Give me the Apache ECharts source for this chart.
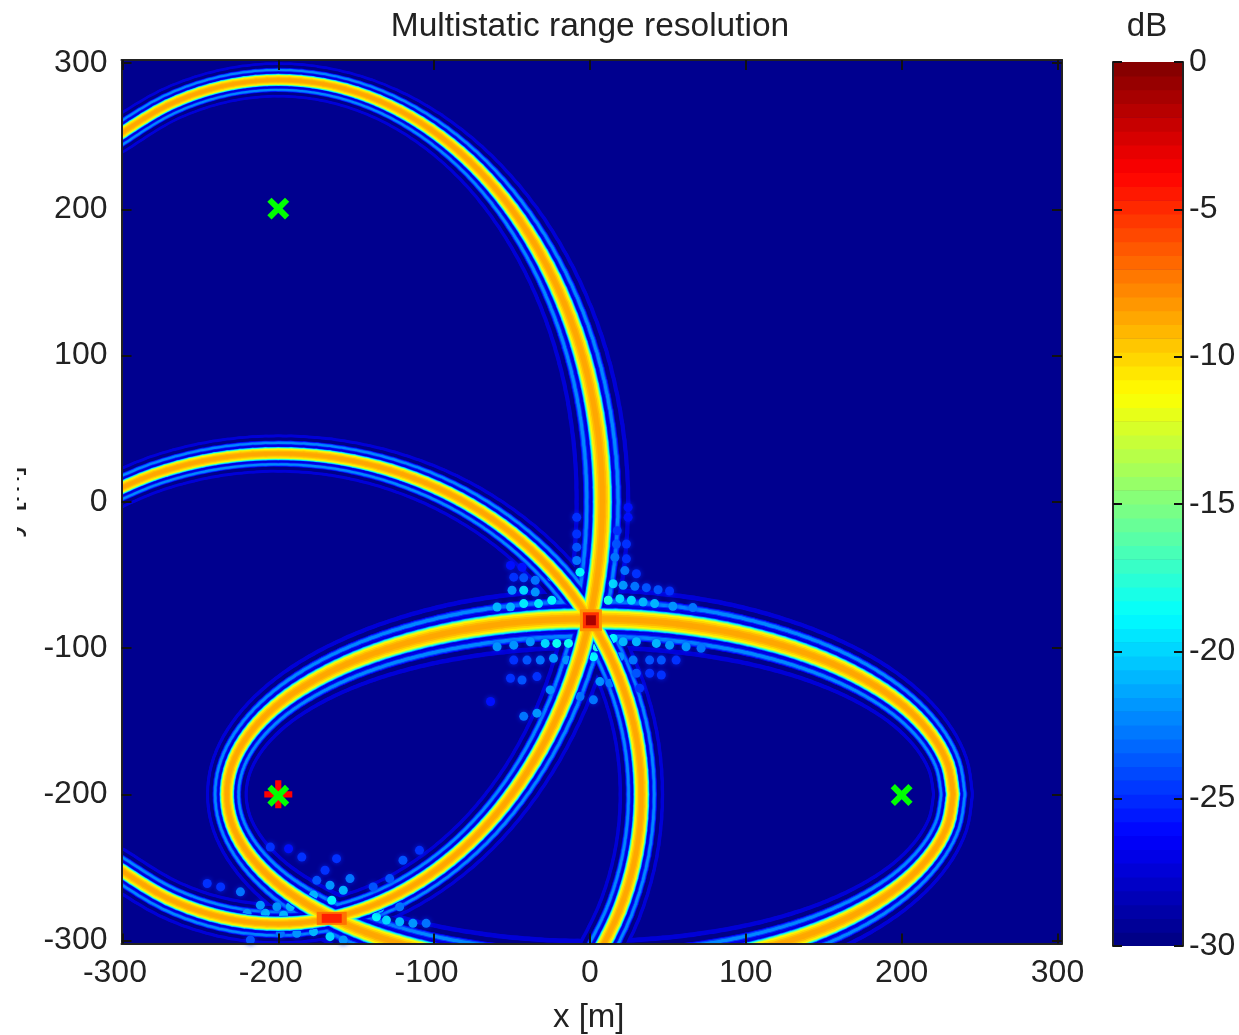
<!DOCTYPE html>
<html>
<head>
<meta charset="utf-8">
<style>
html,body{margin:0;padding:0;background:#fff;overflow:hidden}
#c{width:1239px;height:1035px;filter:blur(0.7px)}
</style>
<script src="https://cdn.jsdelivr.net/npm/echarts@6/dist/echarts.min.js"></script>
</head>
<body>
<div id="c"></div>
<script>
// ---- Data (metres / dB) ----
const xTicks = [-300,-200,-100,0,100,200,300];
const yTicks = [-300,-200,-100,0,100,200,300];
const dbTicks = [-30,-25,-20,-15,-10,-5,0];

// Ridge of the tall ellipse (x, y)
const tallRidge = [[-304,249.8],[-271.1,271.1],[-236.1,284.1],[-200,288.5],[-163.9,284.1],[-128.9,271.1],[-96,249.8],[-66.3,221],[-40.7,185.4],[-19.9,144.3],[-4.5,98.7],[4.8,50.1],[8,0],[4.8,-50.1],[-4.5,-98.7],[-19.9,-144.3],[-40.7,-185.4],[-66.3,-221],[-96,-249.8],[-128.9,-271.1],[-163.9,-284.1],[-200,-288.5],[-236.1,-284.1],[-271.1,-271.1],[-304,-249.8]];
const tallWidth = [.88,.86,.85,.85,.86,.9,.96,1.03,1.12,1.2,1.27,1.32,1.35,1.32,1.25,1.18,1.12,1.08,1.05,1.02,1,1,1,1,1];

// Ridge of the wide ellipse
const wideRidge = [[233,-200],[229.5,-179.2],[218.9,-159],[201.8,-140],[178.5,-122.9],[149.8,-108.1],[116.5,-96.1],[79.7,-87.2],[40.5,-81.8],[0,-80],[-40.5,-81.8],[-79.7,-87.2],[-116.5,-96.1],[-149.8,-108.1],[-178.5,-122.9],[-201.8,-140],[-218.9,-159],[-229.5,-179.2],[-233,-200],[-229.5,-220.8],[-218.9,-241],[-201.8,-260],[-178.5,-277.1],[-149.8,-291.9],[-116.5,-303.9],[-79.7,-312.8],[-40.5,-318.2],[0,-320],[40.5,-318.2],[79.7,-312.8],[116.5,-303.9],[149.8,-291.9],[178.5,-277.1],[201.8,-260],[218.9,-241],[229.5,-220.8],[233,-200]];
const wideWidth = [1,1.02,1.06,1.12,1.2,1.28,1.36,1.44,1.48,1.5,1.48,1.44,1.36,1.28,1.2,1.12,1.06,1.02,1,1.02,1.06,1.12,1.2,1.28,1.36,1.44,1.48,1.5,1.48,1.44,1.36,1.28,1.2,1.12,1.06,1.02,1];

// Ridge of the circular arc
const arcRidge = [[-316.5,1.8],[-279.7,18.9],[-240.5,29.5],[-200,33],[-159.5,29.5],[-120.3,18.9],[-83.5,1.8],[-50.2,-21.5],[-21.5,-50.2],[1.8,-83.5],[18.9,-120.3],[29.5,-159.5],[33,-200],[29.5,-240.5],[18.9,-279.7],[1.8,-316.5]];
const arcWidth = [.92,.92,.92,.92,.94,.98,1.02,1.05,1.08,1.1,1.1,1.1,1.1,1.1,1.1,1.1];

// Ripple spots near the crossings (x, y, dB)
const ripples = [[-50,-60.5,-22],[-42.5,-60.5,-20],[-35.1,-61.7,-22],[-24.5,-67.3,-19],[-18.1,-58.3,-21],[-48.9,-51.5,-25],[-42.5,-52,-24],[-35.1,-53.7,-23],[-51,-43.5,-26],[-43.6,-44.7,-26],[-6.4,-48.1,-19],[-8.5,-40.1,-23],[-8.5,-31,-24],[-8.5,-22,-25],[-8.5,-10.6,-25],[-24.5,-51.5,-22],[-59.6,-71.9,-21],[-42.5,-69.6,-19.5],[-33,-69.6,-19.5],[-51,-71.9,-21],
[11.7,-67.3,-18],[19.2,-66.2,-20],[26.6,-67.3,-20],[34.1,-68.5,-21],[41.5,-69.6,-21],[53.2,-71.4,-22],[66,-72.3,-23],[14.9,-56,-20],[21.3,-57.1,-22],[28.8,-57.8,-23],[36.2,-58.7,-24],[43.7,-60.1,-24],[51.1,-61,-25],[22.4,-47,-23],[29.8,-49.2,-25],[16,-37.9,-23],[23.4,-39,-25],[17,-28.8,-24],[23.4,-28.8,-25],[17.5,-19.7,-25],[24.5,-10.6,-26],[24.5,-3.8,-26],
[-28.7,-96.8,-20],[-21.3,-96.8,-18.5],[-13.8,-96.8,-18.5],[-38.3,-95.7,-22],[-48.9,-98,-22],[-59.6,-99.1,-22],[-48.9,-108.2,-25],[-40.4,-108.2,-24],[-31.9,-108.2,-23],[-23.4,-107,-22],[-14.9,-108.2,-22],[-51,-120.6,-25],[-43.6,-121.8,-24],[-34,-119.5,-25],[-25.5,-128.6,-22],[-63.8,-136.5,-26],[-42.5,-146.7,-23],[-34,-144.5,-22],
[2.2,-105.9,-19],[4.3,-99.1,-18],[14.9,-93.4,-19],[21.3,-95.7,-21],[29.8,-95.7,-21],[42.6,-96.8,-21],[51.1,-98,-22],[61.7,-99.1,-22],[71.3,-100.2,-23],[19.2,-105.9,-22],[27.7,-108.2,-23],[38.3,-108.2,-24],[45.8,-108.2,-24],[55.3,-108.2,-25],[29.8,-117.2,-24],[38.3,-117.2,-25],[45.8,-118.4,-25],[31.9,-127.4,-25],[6.4,-122.9,-22],[12.8,-124,-23],[2.2,-135.4,-23],[-6.4,-133.1,-23],
[-165.7,-272.4,-19],[-158.3,-265.6,-21],[-166.8,-262.2,-22],[-175.3,-258.8,-24],[-154,-257.6,-23],[-162.6,-244,-25],[-170,-251.9,-25],[-177.4,-268.9,-21],[-186,-270.1,-21],[-200.9,-276.9,-22],[-192.3,-276.9,-21],[-130.6,-286,-20],[-122.1,-287.1,-21],[-113.6,-288.2,-22],[-137,-283.7,-19],[-105.1,-288.2,-23],[-134.9,-278,-21],[-122.1,-276.9,-23],[-145.6,-290.5,-19],[-196.6,-282.6,-21],[-208.3,-281.4,-21],[-220,-281.4,-22],[-177.4,-293.9,-21],[-166.8,-297.3,-20],[-188.1,-295,-22],[-198.7,-295,-23],[-158.3,-299.6,-22],[-217.9,-299.6,-24],[-205.1,-236.1,-25],[-193.4,-237.2,-26],[-184.9,-242.9,-25],[-128.5,-257.6,-24],[-139.1,-263.3,-24],[-120,-245.1,-24],[-109.4,-238.3,-25],[-245.6,-261,-25],[-237,-263.3,-25],[-224.3,-266.7,-23],[-211.5,-275.8,-22]];

// Bright peaks where ridges cross (x, y, dB)
const peaks = [[0.6,-81,-8],[0.6,-81,-5],[0.6,-81,-1],[-165.7,-284.8,-7],[-165.7,-284.8,-4.5]];
const peakSizes = [[22,22],[16,16],[10,10],[30,13],[20,9]];

const redMarkers = [[-200,-200]];
const greenMarkers = [[-200,200.5],[-200,-201],[200,-200.5]];

// ---- Styling and helpers ----
const PLUS_THICK = 'path://M-11,-50H11V-11H50V11H11V50H-11V11H-50V-11H-11Z';
const PLUS_THIN = 'path://M-12,-50H12V-12H50V12H12V50H-12V12H-50V-12H-12Z';
const NAVY = '#00008f', INK = '#222222';
const FONT = 'Liberation Sans';
const SIZE = 32;

function jet(t){
  const c = v => Math.round(255*Math.max(0,Math.min(1,v)));
  return 'rgb('+c(Math.min(4*t-1.5,-4*t+4.5))+','+c(Math.min(4*t-.5,-4*t+3.5))+','+c(Math.min(4*t+.5,-4*t+2.5))+')';
}
const palette = Array.from({length:64},(_,i)=>jet((i+.5)/64));
const dbColor = db => palette[Math.max(0,Math.min(63,Math.floor((db+30)/30*64)))];

// half-width in px at scale 1 and dB level of each cross-band layer, outermost first
const bandLayers = [[20.7,-27.5],[17.5,-30],[14.2,-26.5],[13.5,-24],[12.7,-22.5],[10.4,-24.5],[9.7,-27],[8.4,-28],[7.8,-26],[7.2,-22],[6.7,-19],[6.2,-16],[5.7,-13.5],[5.1,-11],[4.2,-10],[3,-9],[1.8,-8.5]];
const RIPPLE_AFTER = 8;

const bandPoints = [];
[[tallRidge,tallWidth],[wideRidge,wideWidth],[arcRidge,arcWidth]].forEach(([r,w],k)=>{
  r.forEach((p,i)=>bandPoints.push([p[0],p[1],w[i],k]));
});

function bandRender(half,color){
  return function(params,api){
    const i = params.dataIndex, p = bandPoints, a = p[i], b = p[i+1];
    if(!b || a[3]!==b[3]) return {type:'group',children:[]};
    const prev = (p[i-1] && p[i-1][3]===a[3]) ? p[i-1] : a;
    const next = (p[i+2] && p[i+2][3]===a[3]) ? p[i+2] : b;
    const P0 = api.coord(prev), P1 = api.coord(a), P2 = api.coord(b), P3 = api.coord(next);
    const at = t => { const t2=t*t,t3=t2*t;
      return [0,1].map(d=>.5*(2*P1[d]+(P2[d]-P0[d])*t+(2*P0[d]-5*P1[d]+4*P2[d]-P3[d])*t2+(3*P1[d]-P0[d]-3*P2[d]+P3[d])*t3)); };
    const N = 5, children = [];
    for(let s=0;s<N;s++){
      const t=(s+.5)/N, w=a[2]+(b[2]-a[2])*t;
      children.push({type:'polyline',shape:{points:[at(s/N),at((s+1)/N)]},
        style:{fill:'none',stroke:color,lineWidth:2*half*w,lineCap:'round',lineJoin:'round'}});
    }
    return {type:'group',children};
  };
}

const series = [];
bandLayers.forEach(([half,db],i)=>{
  series.push({type:'custom',xAxisIndex:0,yAxisIndex:0,clip:true,silent:true,z:10+i,
    coordinateSystem:'cartesian2d',encode:{x:0,y:1},data:bandPoints,renderItem:bandRender(half,dbColor(db))});
});
series.push({name:'ripples',type:'scatter',xAxisIndex:0,yAxisIndex:0,clip:true,silent:true,z:10+RIPPLE_AFTER-0.5,
  data:ripples,symbol:'circle',symbolSize:9,itemStyle:{opacity:1,shadowBlur:5,shadowColor:'rgba(0,40,255,0.8)'}});
series.push({name:'peaks',type:'scatter',xAxisIndex:0,yAxisIndex:0,clip:true,silent:true,z:40,
  data:peaks,symbol:'rect',symbolSize:(v,p)=>peakSizes[p.dataIndex],itemStyle:{opacity:1}});
series.push({type:'scatter',xAxisIndex:0,yAxisIndex:0,silent:true,z:41,data:redMarkers,symbol:PLUS_THICK,symbolSize:28,itemStyle:{color:'#ff0000',opacity:1}});
series.push({type:'scatter',xAxisIndex:0,yAxisIndex:0,silent:true,z:42,data:greenMarkers,symbol:PLUS_THIN,symbolSize:25,symbolRotate:45,itemStyle:{color:'#00ff00',opacity:1}});
// colour bar: one block per colour level
const barLevels = palette.map((c,i)=>[-30+30*i/64,-30+30*(i+1)/64]);
series.push({type:'custom',xAxisIndex:2,yAxisIndex:2,silent:true,clip:true,z:5,data:barLevels,encode:{y:0},
  renderItem:(params,api)=>{
    const lo=api.coord([0,api.value(0)]),hi=api.coord([1,api.value(1)]);
    return {type:'rect',shape:{x:lo[0],y:hi[1],width:hi[0]-lo[0],height:lo[1]-hi[1]+.6},style:{fill:palette[params.dataIndex]}};
  }});

const tick = (len,vals) => ({show:true,inside:true,length:len,lineStyle:{color:'#111',width:2},customValues:vals});
const line = {show:true,onZero:false,lineStyle:{color:INK,width:2}};
const label = (m,vals) => ({show:true,color:INK,fontFamily:FONT,fontSize:SIZE,margin:m,customValues:vals,padding:[2,0,0,0]});
const off = {show:false};

// the plotted image runs a little past the +/-300 ticks on each side
const X_MIN=-300.6, X_MAX=302.9, Y_MIN=-302, Y_MAX=302.1;

const option = {
  animation:false,
  backgroundColor:'#ffffff',
  title:[
    {text:'Multistatic range resolution',left:585,top:5,textAlign:'center',textStyle:{fontFamily:FONT,fontWeight:'normal',fontSize:33.5,color:INK}},
    {text:'dB',left:1142,top:5,textAlign:'center',textStyle:{fontFamily:FONT,fontWeight:'normal',fontSize:33,color:INK}}
  ],
  grid:[
    {left:121.5,top:60,width:940.5,height:883.5,show:true,backgroundColor:NAVY,borderWidth:0,outerBoundsMode:'none',containLabel:false},
    {left:1113,top:62,width:70,height:884,show:true,backgroundColor:NAVY,borderWidth:0,outerBoundsMode:'none',containLabel:false}
  ],
  visualMap:{show:false,type:'continuous',min:-30,max:0,dimension:2,seriesIndex:[bandLayers.length,bandLayers.length+1],inRange:{color:palette}},
  xAxis:[
    {type:'value',gridIndex:0,min:X_MIN,max:X_MAX,position:'bottom',z:50,splitLine:off,axisLine:line,axisTick:tick(10,xTicks),
      axisLabel:{show:true,margin:14,customValues:xTicks,
        formatter:v=>(v<0?'{n|':'{p|')+Math.round(v)+'}',
        rich:{n:{color:INK,fontFamily:FONT,fontSize:SIZE,padding:[0,15,0,0]},p:{color:INK,fontFamily:FONT,fontSize:SIZE}}},
      name:'x [m]',nameLocation:'middle',nameGap:58,nameTextStyle:{fontFamily:FONT,fontSize:33,color:INK,padding:[0,6,0,0]}},
    {type:'value',gridIndex:0,min:X_MIN,max:X_MAX,position:'top',z:50,splitLine:off,axisLine:line,axisTick:tick(10,xTicks),axisLabel:off},
    {type:'value',gridIndex:1,min:0,max:1,show:false,splitLine:off}
  ],
  yAxis:[
    {type:'value',gridIndex:0,min:Y_MIN,max:Y_MAX,position:'left',z:50,splitLine:off,axisLine:line,axisTick:tick(10,yTicks),axisLabel:label(14,yTicks),
      name:'y [m]',nameLocation:'middle',nameRotate:90,nameGap:95,nameTextStyle:{fontFamily:FONT,fontSize:33,color:INK}},
    {type:'value',gridIndex:0,min:Y_MIN,max:Y_MAX,position:'right',z:50,splitLine:off,axisLine:line,axisTick:tick(10,yTicks),axisLabel:off},
    {type:'value',gridIndex:1,min:-30,max:0,position:'right',z:50,splitLine:off,axisLine:line,axisTick:tick(9,dbTicks),axisLabel:label(6,dbTicks)},
    {type:'value',gridIndex:1,min:-30,max:0,position:'left',z:50,splitLine:off,axisLine:line,axisTick:tick(9,dbTicks),axisLabel:off}
  ],
  // the picture's left edge cuts the y-axis name off: a white band over the first 17 px
  graphic:[{type:'rect',left:0,top:0,z:100,shape:{width:17,height:1035},style:{fill:'#ffffff'},silent:true}],
  series
};
const chart = echarts.init(document.getElementById('c'),null,{renderer:'canvas',width:1239,height:1035});
chart.setOption(option);
</script>
</body>
</html>
